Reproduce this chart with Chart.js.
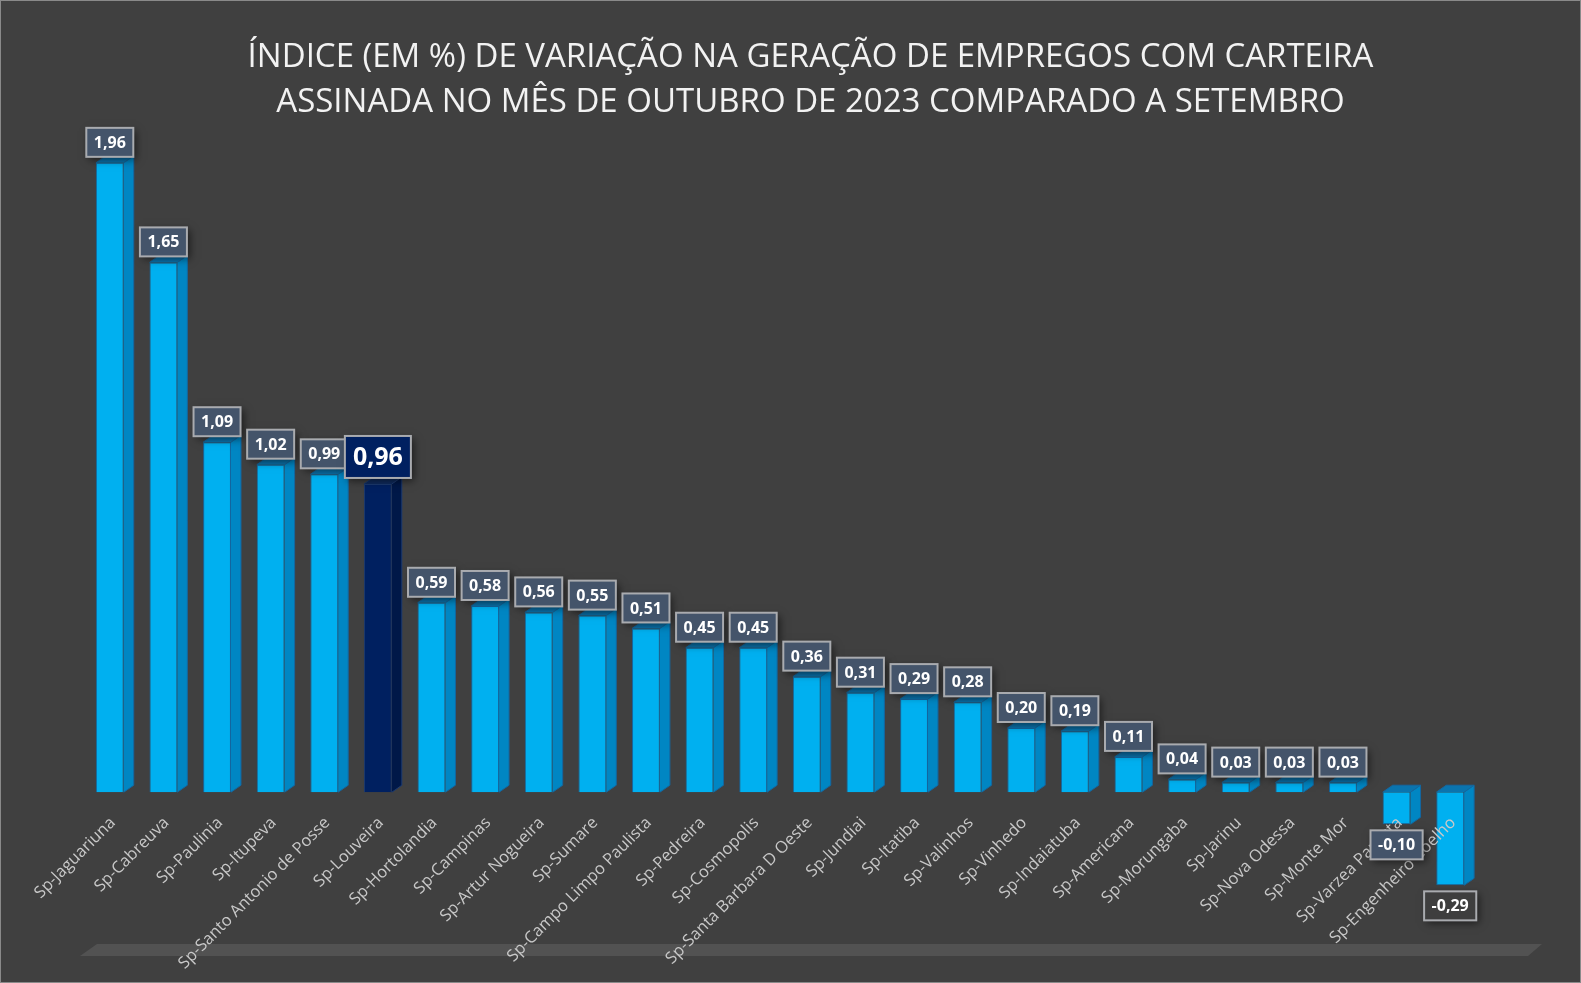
<!DOCTYPE html>
<html>
<head>
<meta charset="utf-8">
<script src="https://cdn.jsdelivr.net/npm/chart.js@4.4.0/dist/chart.umd.min.js"></script>
<style>
  html, body { margin: 0; padding: 0; background: #404040; }
  canvas { display: block; }
</style>
</head>
<body>
<canvas id="chart" width="1581" height="983"></canvas>
<script>
// --- data ---
const titleLines = [
  "ÍNDICE (EM %) DE VARIAÇÃO NA GERAÇÃO DE EMPREGOS COM CARTEIRA",
  "ASSINADA NO MÊS DE OUTUBRO DE 2023 COMPARADO A SETEMBRO",
];
const cities = [
  "Sp-Jaguariuna", "Sp-Cabreuva", "Sp-Paulinia", "Sp-Itupeva",
  "Sp-Santo Antonio de Posse", "Sp-Louveira", "Sp-Hortolandia", "Sp-Campinas",
  "Sp-Artur Nogueira", "Sp-Sumare", "Sp-Campo Limpo Paulista", "Sp-Pedreira",
  "Sp-Cosmopolis", "Sp-Santa Barbara D Oeste", "Sp-Jundiai", "Sp-Itatiba",
  "Sp-Valinhos", "Sp-Vinhedo", "Sp-Indaiatuba", "Sp-Americana",
  "Sp-Morungaba", "Sp-Jarinu", "Sp-Nova Odessa", "Sp-Monte Mor",
  "Sp-Varzea Paulista", "Sp-Engenheiro Coelho",
];
const indexValues = [
  1.96, 1.65, 1.09, 1.02, 0.99, 0.96, 0.59, 0.58, 0.56, 0.55, 0.51, 0.45, 0.45,
  0.36, 0.31, 0.29, 0.28, 0.20, 0.19, 0.11, 0.04, 0.03, 0.03, 0.03, -0.10, -0.29,
];
const highlightCity = "Sp-Louveira";

// --- colours ---
const BG = "#404040";
const FRONT = "#00B0F0", SIDE = "#0086C3", TOP = "#0A74AE", EDGE = "#1467A0";
const NAVY_FRONT = "#002060", NAVY_SIDE = "#001848", NAVY_TOP = "#0F2B5E", NAVY_EDGE = "#1B3A70";
const DX = 10, DY = 7; // 3d depth of the bars

const isHi = (i) => cities[i] === highlightCity;
const fmt = (v) => v.toFixed(2).replace(".", ",");

function poly(ctx, pts, fill) {
  ctx.beginPath();
  ctx.moveTo(pts[0][0], pts[0][1]);
  for (let k = 1; k < pts.length; k++) ctx.lineTo(pts[k][0], pts[k][1]);
  ctx.closePath();
  ctx.fillStyle = fill;
  ctx.fill();
}

// background, outer frame, title and the grey floor slab
const backdrop = {
  id: "backdrop",
  beforeDraw(chart) {
    const { ctx, width, height, chartArea: a } = chart;
    ctx.save();
    ctx.fillStyle = BG;
    ctx.fillRect(0, 0, width, height);
    ctx.strokeStyle = "#8a8a8a";
    ctx.lineWidth = 1;
    ctx.strokeRect(0.5, 0.5, width - 1, height - 1);

    // title sits a little right of the canvas centre, like the original
    ctx.fillStyle = "#F2F2F2";
    ctx.font = "33px 'Open Sans'";
    ctx.textAlign = "center";
    ctx.textBaseline = "middle";
    titleLines.forEach((line, k) => ctx.fillText(line, width / 2 + 20, 58 + k * 45));

    poly(ctx, [
      [a.left - 3, a.bottom], [a.left + 14, a.bottom - 12],
      [a.right + 65, a.bottom - 12], [a.right + 51, a.bottom],
    ], "#525252");
    ctx.restore();
  },
};

// side and top faces of every bar
const bars3d = {
  id: "bars3d",
  afterDatasetsDraw(chart) {
    const ctx = chart.ctx;
    ctx.save();
    chart.getDatasetMeta(0).data.forEach((bar, i) => {
      const { x, y, base, width } = bar.getProps(["x", "y", "base", "width"], true);
      const l = x - width / 2, r = x + width / 2;
      const t = Math.min(y, base), b = Math.max(y, base);
      poly(ctx, [[r, t], [r + DX, t - DY], [r + DX, b - DY], [r, b]], isHi(i) ? NAVY_SIDE : SIDE);
      poly(ctx, [[l, t], [l + DX, t - DY], [r + DX, t - DY], [r, t]], isHi(i) ? NAVY_TOP : TOP);
      ctx.strokeStyle = isHi(i) ? NAVY_EDGE : EDGE;
      ctx.lineWidth = 1;
      ctx.beginPath();
      ctx.moveTo(l, t); ctx.lineTo(l + DX, t - DY); ctx.lineTo(r + DX, t - DY);
      ctx.lineTo(r + DX, b - DY); ctx.lineTo(r, b);
      ctx.moveTo(r, t); ctx.lineTo(r + DX, t - DY);
      ctx.stroke();
    });
    ctx.restore();
  },
};

// category names at the zero line, rotated 45 degrees
const cityLabels = {
  id: "cityLabels",
  afterDatasetsDraw(chart) {
    const { ctx, scales } = chart;
    const y0 = scales.y.getPixelForValue(0);
    ctx.save();
    ctx.fillStyle = "#C8C8C8";
    ctx.font = "16.5px 'Open Sans'";
    ctx.textAlign = "right";
    ctx.textBaseline = "middle";
    cities.forEach((name, i) => {
      const x = scales.x.getPixelForValue(i);
      ctx.save();
      ctx.translate(x + 3, y0 + 28);
      ctx.rotate(-Math.PI / 4);
      ctx.fillText(name, 0, 0);
      ctx.restore();
    });
    ctx.restore();
  },
};

// value boxes above / below the bars
const valueBoxes = {
  id: "valueBoxes",
  afterDraw(chart) {
    const ctx = chart.ctx;
    ctx.save();
    chart.getDatasetMeta(0).data.forEach((bar, i) => {
      const v = indexValues[i];
      const hi = isHi(i);
      const size = hi ? 25 : 16;
      ctx.font = `bold ${size}px 'Open Sans'`;
      const w = ctx.measureText(fmt(v)).width + (hi ? 16 : 15);
      const h = hi ? 42 : 29;
      const bx = bar.x - w / 2;
      const by = v >= 0 ? bar.y - 6 - h : bar.y + 6;
      let fill = "#44546A";
      if (hi) fill = NAVY_FRONT;
      if (v < -0.2) fill = "#3E3E3E";
      ctx.save();
      ctx.shadowColor = "rgba(0,0,0,0.55)";
      ctx.shadowBlur = 8;
      ctx.shadowOffsetX = 3;
      ctx.shadowOffsetY = 3;
      ctx.fillStyle = fill;
      ctx.fillRect(bx, by, w, h);
      ctx.restore();
      ctx.strokeStyle = "#A9ABAF";
      ctx.lineWidth = 2;
      ctx.strokeRect(bx, by, w, h);
      ctx.fillStyle = "#FFFFFF";
      ctx.textAlign = "center";
      ctx.textBaseline = "middle";
      ctx.fillText(fmt(v), bar.x, by + h / 2 + 1);
    });
    ctx.restore();
  },
};

const chart = new Chart(document.getElementById("chart"), {
  type: "bar",
  data: {
    labels: cities,
    datasets: [{
      data: indexValues,
      backgroundColor: cities.map((c, i) => (isHi(i) ? NAVY_FRONT : FRONT)),
      borderColor: cities.map((c, i) => (isHi(i) ? NAVY_EDGE : EDGE)),
      borderWidth: 1,
      barPercentage: 0.52,
      categoryPercentage: 1,
    }],
  },
  options: {
    responsive: false,
    animation: false,
    layout: { padding: { left: 83, right: 104, top: 150, bottom: 27 } },
    plugins: {
      legend: { display: false },
      tooltip: { enabled: false },
      title: { display: false },
    },
    scales: {
      x: { display: false },
      y: { display: false, min: -0.51, max: 2.0 },
    },
  },
  plugins: [backdrop, bars3d, cityLabels, valueBoxes],
});
</script>
</body>
</html>
